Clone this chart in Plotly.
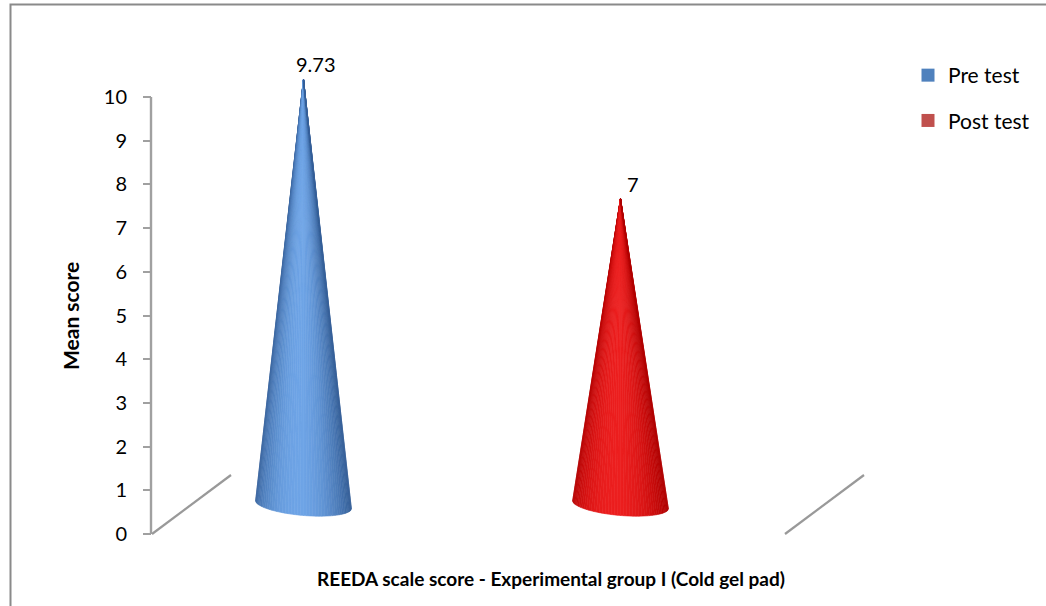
import numpy as np
import plotly.graph_objects as go

# ---- data ----
series_names = ["Pre test", "Post test"]
series_values = [9.73, 7]
value_labels = ["9.73", "7"]
legend_colors = ["#4F81BD", "#C0504D"]
cone_dark = ["#355f98", "#b00000"]
cone_light = ["#6ea4e6", "#ec1f1f"]
y_ticks = list(range(0, 11))
x_title = "REEDA scale score - Experimental group I (Cold gel pad)"
y_title = "Mean score"

W, H = 1046, 606
FONT = "Lato"

# pixel geometry
x0_px, x1_px = 152, 866          # y axis position / right floor end (px)
xr0, xr1 = 120, 900              # x axis range in pixel units
y0_px, y10_px = 534, 97          # y positions of 0 and 10
unit = (y0_px - y10_px) / 10.0   # px per unit
depth_dx, depth_dy = 79, 59      # full depth of floor, px
mid_dx, mid_dy = depth_dx / 2, depth_dy / 2
slot_front = [264, 581]          # front positions of series slots (px)
R_px, r_px = 48, 11              # base ellipse semi-axes

y_lo, y_hi = -1.0, 12.0          # extended range so cones are not clipped
dom_lo = 1 - (y0_px - y_lo * unit) / H
dom_hi = 1 - (y0_px - y_hi * unit) / H


def hex2rgb(h):
    h = h.lstrip("#")
    return np.array([int(h[i:i + 2], 16) for i in (0, 2, 4)], float)


def mix(a, b, t):
    c = hex2rgb(a) * (1 - t) + hex2rgb(b) * t
    return "rgb(%d,%d,%d)" % tuple(np.round(c))


fig = go.Figure()

N = 48
for i, (name, val) in enumerate(zip(series_names, series_values)):
    cx = slot_front[i] + mid_dx
    base_y = mid_dy / unit
    apex_y = val + base_y
    r_u = r_px / unit
    thetas = np.linspace(0, np.pi, N + 1)
    for k in range(N):
        t0, t1 = thetas[k], thetas[k + 1]
        tm = 0.5 * (t0 + t1)
        s = max(0.0, np.cos(tm - np.pi / 2 + 0.12))
        s = s ** 1.6
        col = mix(cone_dark[i], cone_light[i], s)
        xs = [cx, cx - R_px * np.cos(t0), cx - R_px * np.cos(t1), cx]
        ys = [apex_y, base_y - r_u * np.sin(t0) + 0.09 * np.cos(t0),
              base_y - r_u * np.sin(t1) + 0.09 * np.cos(t1), apex_y]
        fig.add_trace(go.Scatter(
            x=xs, y=ys, mode="lines", fill="toself", fillcolor=col,
            line=dict(color=col, width=0.6), showlegend=False,
            hoverinfo="skip"))
    fig.add_annotation(x=cx + 12, y=apex_y, text=value_labels[i],
                       showarrow=False, yshift=15, xanchor="center",
                       yanchor="middle",
                       font=dict(size=20, color="black", family=FONT))

# legend entries
for i, name in enumerate(series_names):
    fig.add_trace(go.Scatter(
        x=[None], y=[None], mode="markers", name=name, legendgroup=name,
        marker=dict(symbol="square", size=13, color=legend_colors[i])))

# y axis line (0..10)
fig.add_shape(type="line", xref="x", yref="y", x0=x0_px - 1, y0=0,
              x1=x0_px - 1, y1=10, line=dict(color="#a0a0a0", width=2.4))

# floor depth lines
for xs in (x0_px, 785):
    fig.add_shape(type="line", xref="x", yref="y", x0=xs, y0=0,
                  x1=xs + depth_dx, y1=depth_dy / unit,
                  line=dict(color="#999999", width=2.2))

# outer border
fig.add_shape(type="rect", xref="paper", yref="paper",
              x0=10.5 / W, y0=1 - 4.5 / H, x1=1.02, y1=-0.02,
              line=dict(color="#8a8a8a", width=2))

fig.add_annotation(xref="paper", yref="paper", x=551 / W, y=1 - 578 / H,
                   xanchor="center", yanchor="middle",
                   text="<b>%s</b>" % x_title, showarrow=False,
                   font=dict(size=19, color="black", family=FONT))
fig.add_annotation(xref="paper", yref="paper", x=70 / W, y=1 - 316 / H,
                   xanchor="center", yanchor="middle",
                   text="<b>%s</b>" % y_title, showarrow=False, textangle=-90,
                   font=dict(size=21, color="black", family=FONT))

fig.update_layout(
    width=W, height=H,
    margin=dict(l=0, r=0, t=0, b=0, autoexpand=False),
    paper_bgcolor="white", plot_bgcolor="rgba(0,0,0,0)",
    font=dict(family=FONT, size=20, color="black"),
    xaxis=dict(range=[xr0, xr1], domain=[xr0 / W, xr1 / W],
               visible=False, fixedrange=True),
    yaxis=dict(range=[y_lo, y_hi], domain=[dom_lo, dom_hi],
               anchor="free", position=(x0_px - 1) / W,
               tickvals=y_ticks, showgrid=False, zeroline=False,
               showline=False,
               ticks="outside", ticklen=8, tickcolor="#a0a0a0", tickwidth=2,
               ticklabelstandoff=12,
               tickfont=dict(size=20, color="black", family=FONT),
               fixedrange=True),
    legend=dict(x=908 / W, y=1 - 55 / H, xanchor="left", yanchor="top",
                tracegroupgap=15, font=dict(size=21, family=FONT),
                bgcolor="rgba(0,0,0,0)", itemwidth=30),
    showlegend=True,
)

fig.write_html("out.html")
